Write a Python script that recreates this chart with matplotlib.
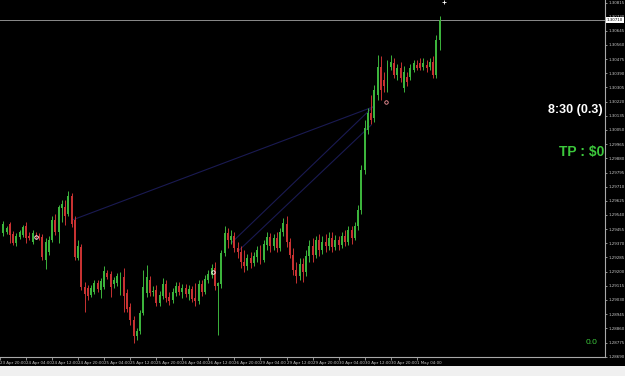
import numpy as np
import matplotlib.pyplot as plt
from matplotlib.patches import Rectangle

# H1 candles, 23 Apr 21:00 -> 1 May 11:00
opens = [1.29432, 1.29438, 1.29486, 1.29426, 1.29372, 1.29408, 1.29420, 1.29474, 1.29414, 1.29378,
         1.29414, 1.29414, 1.29408, 1.29270, 1.29318, 1.29390, 1.29510, 1.29438, 1.29582, 1.29588,
         1.29546, 1.29654, 1.29510, 1.29282, 1.29348, 1.29108, 1.29102, 1.29060, 1.29078, 1.29132,
         1.29090, 1.29108, 1.29192, 1.29186, 1.29126, 1.29132, 1.29090, 1.29168, 1.29072, 1.28988,
         1.28910, 1.28814, 1.28844, 1.28952, 1.29072, 1.29150, 1.29078, 1.29090, 1.29012, 1.29054,
         1.29126, 1.29048, 1.29030, 1.29072, 1.29114, 1.29078, 1.29102, 1.29066, 1.29096, 1.29042,
         1.29024, 1.29126, 1.29078, 1.29150, 1.29180, 1.29222, 1.29114, 1.29126, 1.29312, 1.29432,
         1.29390, 1.29414, 1.29342, 1.29318, 1.29258, 1.29234, 1.29282, 1.29252, 1.29288, 1.29330,
         1.29270, 1.29360, 1.29408, 1.29354, 1.29402, 1.29342, 1.29438, 1.29486, 1.29378, 1.29300,
         1.29210, 1.29174, 1.29246, 1.29198, 1.29294, 1.29354, 1.29300, 1.29390, 1.29330, 1.29378,
         1.29354, 1.29402, 1.29348, 1.29390, 1.29360, 1.29414, 1.29378, 1.29450, 1.29402, 1.29474,
         1.29570, 1.29810, 1.30050, 1.30152, 1.30122, 1.30260, 1.30428, 1.30350, 1.30302, 1.30428,
         1.30452, 1.30380, 1.30422, 1.30302, 1.30368, 1.30368, 1.30410, 1.30440, 1.30452, 1.30428,
         1.30440, 1.30428, 1.30458, 1.30380, 1.30590]
highs = [1.29504, 1.29474, 1.29498, 1.29444, 1.29432, 1.29450, 1.29480, 1.29498, 1.29438, 1.29450,
         1.29438, 1.29432, 1.29426, 1.29402, 1.29414, 1.29534, 1.29546, 1.29600, 1.29630, 1.29630,
         1.29684, 1.29672, 1.29534, 1.29390, 1.29366, 1.29138, 1.29120, 1.29120, 1.29150, 1.29150,
         1.29162, 1.29234, 1.29210, 1.29204, 1.29168, 1.29192, 1.29198, 1.29222, 1.29096, 1.29012,
         1.28934, 1.28862, 1.28970, 1.29210, 1.29240, 1.29174, 1.29114, 1.29120, 1.29084, 1.29162,
         1.29150, 1.29078, 1.29102, 1.29138, 1.29138, 1.29126, 1.29126, 1.29120, 1.29114, 1.29132,
         1.29150, 1.29150, 1.29180, 1.29210, 1.29246, 1.29258, 1.29138, 1.29330, 1.29474, 1.29462,
         1.29450, 1.29438, 1.29378, 1.29354, 1.29330, 1.29306, 1.29318, 1.29318, 1.29354, 1.29360,
         1.29390, 1.29438, 1.29432, 1.29426, 1.29438, 1.29462, 1.29522, 1.29534, 1.29402, 1.29342,
         1.29258, 1.29282, 1.29282, 1.29330, 1.29390, 1.29402, 1.29414, 1.29426, 1.29414, 1.29426,
         1.29438, 1.29438, 1.29420, 1.29414, 1.29438, 1.29450, 1.29474, 1.29474, 1.29498, 1.29600,
         1.29840, 1.30110, 1.30182, 1.30260, 1.30320, 1.30500, 1.30494, 1.30398, 1.30470, 1.30500,
         1.30482, 1.30446, 1.30458, 1.30434, 1.30398, 1.30446, 1.30470, 1.30470, 1.30482, 1.30482,
         1.30470, 1.30482, 1.30494, 1.30620, 1.30734]
lows = [1.29414, 1.29426, 1.29372, 1.29360, 1.29354, 1.29396, 1.29408, 1.29372, 1.29390, 1.29366,
        1.29396, 1.29390, 1.29270, 1.29216, 1.29300, 1.29378, 1.29420, 1.29372, 1.29498, 1.29480,
        1.29534, 1.29468, 1.29270, 1.29270, 1.29090, 1.28958, 1.29030, 1.29048, 1.29066, 1.29078,
        1.29042, 1.29096, 1.29156, 1.29048, 1.29102, 1.29114, 1.29060, 1.28958, 1.28958, 1.28880,
        1.28772, 1.28790, 1.28826, 1.28940, 1.29048, 1.29054, 1.29054, 1.28994, 1.28994, 1.29036,
        1.29018, 1.29000, 1.29012, 1.29054, 1.29060, 1.29042, 1.29048, 1.29030, 1.29018, 1.28994,
        1.29006, 1.29054, 1.29066, 1.29132, 1.29162, 1.29090, 1.28820, 1.29102, 1.29294, 1.29342,
        1.29366, 1.29318, 1.29282, 1.29222, 1.29198, 1.29210, 1.29222, 1.29234, 1.29258, 1.29246,
        1.29258, 1.29330, 1.29318, 1.29330, 1.29318, 1.29324, 1.29414, 1.29348, 1.29282, 1.29180,
        1.29132, 1.29150, 1.29138, 1.29174, 1.29258, 1.29258, 1.29282, 1.29294, 1.29306, 1.29318,
        1.29330, 1.29318, 1.29330, 1.29330, 1.29342, 1.29354, 1.29360, 1.29366, 1.29390, 1.29450,
        1.29546, 1.29786, 1.30026, 1.30086, 1.30098, 1.30230, 1.30230, 1.30278, 1.30278, 1.30410,
        1.30362, 1.30350, 1.30338, 1.30278, 1.30314, 1.30350, 1.30398, 1.30410, 1.30410, 1.30410,
        1.30398, 1.30410, 1.30362, 1.30362, 1.30530]
closes = [1.29486, 1.29462, 1.29420, 1.29372, 1.29414, 1.29438, 1.29468, 1.29402, 1.29402, 1.29432,
          1.29408, 1.29402, 1.29288, 1.29378, 1.29390, 1.29510, 1.29438, 1.29588, 1.29606, 1.29534,
          1.29654, 1.29486, 1.29288, 1.29354, 1.29108, 1.29066, 1.29054, 1.29102, 1.29132, 1.29096,
          1.29144, 1.29204, 1.29168, 1.29108, 1.29150, 1.29174, 1.29168, 1.29054, 1.28976, 1.28910,
          1.28814, 1.28844, 1.28952, 1.29108, 1.29168, 1.29072, 1.29084, 1.29012, 1.29060, 1.29126,
          1.29042, 1.29024, 1.29078, 1.29114, 1.29078, 1.29102, 1.29066, 1.29096, 1.29036, 1.29024,
          1.29126, 1.29078, 1.29156, 1.29186, 1.29222, 1.29114, 1.29132, 1.29312, 1.29432, 1.29390,
          1.29414, 1.29342, 1.29318, 1.29258, 1.29234, 1.29282, 1.29252, 1.29294, 1.29330, 1.29270,
          1.29366, 1.29408, 1.29354, 1.29402, 1.29342, 1.29438, 1.29492, 1.29378, 1.29300, 1.29210,
          1.29174, 1.29246, 1.29198, 1.29294, 1.29354, 1.29300, 1.29390, 1.29330, 1.29378, 1.29354,
          1.29402, 1.29348, 1.29390, 1.29360, 1.29414, 1.29378, 1.29450, 1.29402, 1.29474, 1.29570,
          1.29810, 1.30062, 1.30152, 1.30110, 1.30290, 1.30428, 1.30290, 1.30314, 1.30452, 1.30458,
          1.30380, 1.30422, 1.30362, 1.30398, 1.30338, 1.30422, 1.30452, 1.30422, 1.30422, 1.30452,
          1.30422, 1.30458, 1.30380, 1.30590, 1.30710]

time_labels = ["23 Apr 20:00", "24 Apr 04:00", "24 Apr 12:00", "24 Apr 20:00", "25 Apr 04:00",
               "25 Apr 12:00", "25 Apr 20:00", "26 Apr 04:00", "26 Apr 12:00", "26 Apr 20:00",
               "29 Apr 04:00", "29 Apr 12:00", "29 Apr 20:00", "30 Apr 04:00", "30 Apr 12:00",
               "30 Apr 20:00", "1 May 04:00"]
price_ticks = [1.30815, 1.30730, 1.30645, 1.30560, 1.30475, 1.30390, 1.30305, 1.30220, 1.30135,
               1.30050, 1.29965, 1.29880, 1.29795, 1.29710, 1.29625, 1.29540, 1.29455, 1.29370,
               1.29285, 1.29200, 1.29115, 1.29030, 1.28945, 1.28860, 1.28775, 1.28690]
bid = 1.30710

# trade lines (bar index, price)
trade_x = [[22.2, 114.5], [71.0, 114.5], [73.5, 114.0]]
trade_y = [[1.29510, 1.30188], [1.29372, 1.30188], [1.29330, 1.30080]]
mark_x = [11, 65.5, 136.5]
mark_y = [1.29408, 1.29198, 1.30818]

opens, highs, lows, closes = map(np.array, (opens, highs, lows, closes))
bars = np.arange(1, len(opens) + 1)

fig = plt.figure(figsize=(6.25, 3.76), dpi=100, facecolor='black')
ax = fig.add_axes([0, 19 / 376, 605 / 625, 357 / 376], facecolor='black')

for xs, ys in zip(trade_x, trade_y):
    ax.plot(xs, ys, color='#1a1a52', lw=0.8, zorder=1)

col = np.where(closes >= opens, '#3cb43c', '#c83232')
ax.vlines(bars, lows, highs, colors=col, lw=0.7, zorder=2)
ax.bar(bars, np.abs(closes - opens) + 0.00002, bottom=np.minimum(opens, closes),
       width=0.6, color=col, lw=0, zorder=3)

ax.plot(mark_x[:2], mark_y[:2], ls='none', marker='o', ms=2.5, mfc='none', mec='white', mew=0.6, zorder=4)
ax.plot(118.5, 1.30218, ls='none', marker='o', ms=2.5, mfc='none', mec='#ff9aa0', mew=0.6, zorder=4)
ax.plot(mark_x[2], mark_y[2], ls='none', marker='+', ms=3, mec='white', mew=0.6, zorder=4, clip_on=False)

ax.axhline(bid, color='#8c8c8c', lw=0.7, zorder=1)

ax.set_xlim(0.76, 185.8)
ax.set_ylim(1.28688, 1.3083)

for s in ['top', 'left']:
    ax.spines[s].set_visible(False)
for s in ['right', 'bottom']:
    ax.spines[s].set_color('#a8a8a8')
    ax.spines[s].set_linewidth(0.8)

ax.yaxis.tick_right()
ax.set_yticks(price_ticks, labels=['%.5f' % v for v in price_ticks])
ax.tick_params(axis='y', colors='#c8c8c8', labelsize=2.9, length=1.5, width=0.5, pad=1)
ax.set_xticks(np.arange(0, 8 * len(time_labels), 8), labels=time_labels)
ax.tick_params(axis='x', colors='#c8c8c8', labelsize=2.9, length=2, width=0.5, pad=1)
for t in ax.get_xticklabels():
    t.set_ha('left')

ax.text(1.003, bid, '%.5f' % bid, transform=ax.get_yaxis_transform(), fontsize=2.9,
        color='black', va='center', ha='left',
        bbox=dict(boxstyle='square,pad=0.15', fc='white', ec='none'))

fig.text(603 / 625, 1 - 110 / 376, '8:30 (0.3)', ha='right', va='center', color='white',
         fontsize=9, fontweight='bold', family='Liberation Sans')
fig.text(604 / 625, 1 - 152 / 376, 'TP : $0', ha='right', va='center', color='#3cc83c',
         fontsize=10, fontweight='bold', family='Liberation Sans')
fig.text(597 / 625, 1 - 342 / 376, '0.0', ha='right', va='center', color='#3cc83c',
         fontsize=6, family='Liberation Sans')

fig.patches.append(Rectangle((0, 0), 1, 10 / 376, transform=fig.transFigure,
                             facecolor='#f0f0f0', edgecolor='none'))

fig.savefig('out.png', dpi=100, facecolor='black')
